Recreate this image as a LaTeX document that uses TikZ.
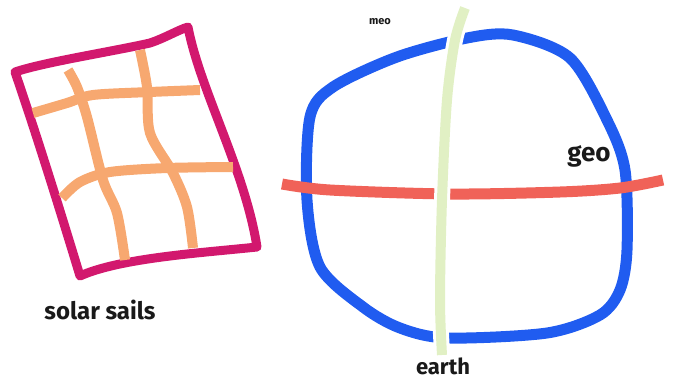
\documentclass[tikz,border=0pt]{standalone}
\usepackage{fontspec}
\setmainfont{Fira Sans}
\usepackage{xcolor}
\definecolor{sailpink}{RGB}{210,24,110}
\definecolor{ribpeach}{RGB}{247,168,112}
\definecolor{orbitblue}{RGB}{32,92,240}
\definecolor{geored}{RGB}{240,98,88}
\definecolor{earthgreen}{RGB}{225,240,196}

\tikzset{
  sail/.style={line width=9pt,sailpink,line join=round,line cap=round},
  rib/.style={line width=10pt,ribpeach},
  orbit/.style={line width=11pt,orbitblue},
  belt/.style={line width=11pt,geored},
  label/.style={text=black!90,inner sep=0pt}
}

\begin{document}
\begin{tikzpicture}[x=1pt,y=-1pt]
\useasboundingbox (0,0) rectangle (675,381);

% sail frame
\draw[sail] (15,72) .. controls (45,62) and (110,52) .. (150,43)
  .. controls (165,38) and (178,30) .. (188,27)
  .. controls (200,90) and (245,170) .. (257,247)
  .. controls (200,253) and (120,258) .. (80,276)
  .. controls (60,210) and (35,130) .. cycle;

% ribs
\draw[rib] plot[smooth] coordinates {(33,113) (67,103) (93,95) (150,92) (200,90)};
\draw[rib] plot[smooth] coordinates {(62,198) (80,182) (110,172) (167,168) (233,167)};
\draw[rib] plot[smooth] coordinates {(68,70) (77,87) (87,117) (103,180) (117,213) (125,260)};
\draw[rib] plot[smooth] coordinates {(140,50) (147,87) (150,133) (173,173) (187,207) (193,248)};

\node[label,font=\bfseries\fontsize{24}{28}\selectfont] (sails) at (100,310) {solar sails};

% orbit
\draw[orbit] plot[smooth cycle] coordinates {(467,38) (513,35) (570,58) (607,120) (625,170)
  (627,250) (620,290) (600,315) (547,333) (447,338) (400,328) (363,307) (320,267)
  (307,200) (310,117) (333,87) (397,57)};

% geo belt
\draw[belt] plot[smooth] coordinates {(282,184) (330,190) (450,194) (560,192) (620,188) (663,180)};

% earth axis
\draw[line width=16pt,white] plot[smooth] coordinates {(465,8) (455,40) (447,100) (442,200) (440,300) (442,352)};
\draw[line width=10pt,earthgreen] plot[smooth] coordinates {(465,8) (455,40) (447,100) (442,200) (440,300) (442,355)};

\node[label,font=\bfseries\fontsize{11}{13}\selectfont] (meo) at (380,22) {meo};
\node[label,font=\bfseries\fontsize{26}{30}\selectfont] (geo) at (589,156) {geo};
\node[label,font=\bfseries\fontsize{22}{26}\selectfont] (earth) at (443,366) {earth};
\end{tikzpicture}
\end{document}
